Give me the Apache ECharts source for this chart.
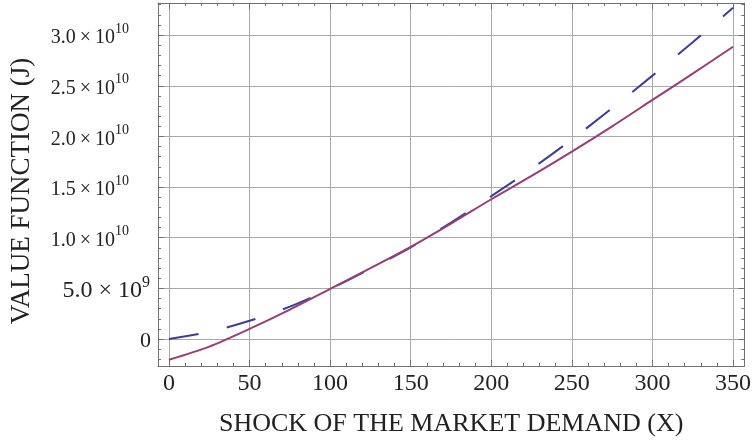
<!DOCTYPE html>
<html>
<head>
<meta charset="utf-8">
<script src="https://cdn.jsdelivr.net/npm/echarts@6/dist/echarts.min.js"></script>
<style>
  html, body { margin: 0; padding: 0; background: #fff; }
  #chart { width: 754px; height: 442px; }
</style>
</head>
<body>
<div id="chart"></div>
<script>
// x positions (shock of the market demand)
const xValues = [0, 25, 50, 75, 100, 125, 150, 175, 200, 225, 250, 275, 300, 325, 350]
// dashed blue curve
const dashedValues = [0, 0.7e9, 1.8e9, 3.2e9, 4.95e9, 6.95e9, 9.05e9, 11.5e9, 14.1e9, 16.8e9, 19.7e9, 22.8e9, 26.0e9, 29.3e9, 32.7e9]
// solid purple curve
const solidValues = [-2.05e9, -0.75e9, 1.0e9, 2.9e9, 4.95e9, 7.0e9, 9.1e9, 11.4e9, 13.8e9, 16.1e9, 18.5e9, 21.0e9, 23.6e9, 26.2e9, 28.85e9]

const xRange = [-6.8, 357]
const yRange = [-2.66e9, 3.317e10]
const xMajor = 50
const xMinor = 10
const yMajor = 5e9
const yMinor = 1e9

const font = 'Liberation Serif'
const frameColor = '#707070'
const gridColor = '#a8a8a8'
const textColor = '#222'

function isMultiple(v, step) {
  const r = v / step
  return Math.abs(r - Math.round(r)) < 1e-6
}

// Mathematica style labels: 0, 5.0x10^9, 1.0x10^10 ...
function yLabel(v) {
  if (!isMultiple(v, yMajor)) return ''
  if (Math.abs(v) < 1) return '{z|0}'
  const e = Math.floor(Math.log10(Math.abs(v)) + 1e-9)
  const m = v / Math.pow(10, e)
  if (e < 10) return '{B|' + m.toFixed(1) + ' × 10}{S|' + e + '}'
  return '{b|' + m.toFixed(1) + '\u2009×\u200910}{s|' + e + '}'
}

function xLabel(v) {
  return isMultiple(v, xMajor) ? String(Math.round(v)) : ''
}

function pairs(ys) {
  return xValues.map((x, i) => [x, ys[i]])
}

const chart = echarts.init(document.getElementById('chart'))

const tickStyle = { color: frameColor, width: 1 }

function xAxisOf(position, step, major) {
  return {
    type: 'value',
    position: position,
    min: xRange[0],
    max: xRange[1],
    splitNumber: Math.round((xRange[1] - xRange[0]) / step),
    minInterval: step,
    maxInterval: step,
    axisLine: { show: major, onZero: false, lineStyle: { color: frameColor, width: 1 } },
    axisTick: { show: true, inside: true, length: major ? 6 : 3, lineStyle: tickStyle },
    axisLabel: {
      show: major && position === 'bottom',
      formatter: xLabel,
      margin: 6,
      fontFamily: font,
      fontSize: 24,
      color: textColor
    },
    splitLine: { show: major && position === 'bottom', lineStyle: { color: gridColor, width: 1 } }
  }
}

function yAxisOf(position, step, major) {
  return {
    type: 'value',
    position: position,
    min: yRange[0],
    max: yRange[1],
    splitNumber: Math.round((yRange[1] - yRange[0]) / step),
    minInterval: step,
    maxInterval: step,
    axisLine: { show: major, onZero: false, lineStyle: { color: frameColor, width: 1 } },
    axisTick: { show: true, inside: true, length: major ? 6 : 3, lineStyle: tickStyle },
    axisLabel: {
      show: major && position === 'left',
      formatter: yLabel,
      margin: 7,
      rich: {
        z: { fontFamily: font, fontSize: 22, color: textColor, lineHeight: 26, verticalAlign: 'bottom' },
        B: { fontFamily: font, fontSize: 24, color: textColor, lineHeight: 28, verticalAlign: 'bottom' },
        S: { fontFamily: font, fontSize: 16, color: textColor, lineHeight: 17, verticalAlign: 'top', padding: [0, 1, 0, 0] },
        b: { fontFamily: font, fontSize: 20, color: textColor, lineHeight: 26, verticalAlign: 'bottom' },
        s: { fontFamily: font, fontSize: 14, color: textColor, lineHeight: 16, verticalAlign: 'top', padding: [0, 22, 0, 0] }
      }
    },
    splitLine: { show: major && position === 'left', lineStyle: { color: gridColor, width: 1 } }
  }
}

const xAxes = [
  xAxisOf('bottom', xMajor, true),
  xAxisOf('bottom', xMinor, false),
  xAxisOf('top', xMajor, true),
  xAxisOf('top', xMinor, false)
]
xAxes[0].name = 'SHOCK OF THE MARKET DEMAND (X)'
xAxes[0].nameLocation = 'middle'
xAxes[0].nameGap = 45
xAxes[0].nameTextStyle = { fontFamily: font, fontSize: 26, color: textColor }

const yAxes = [
  yAxisOf('left', yMajor, true),
  yAxisOf('left', yMinor, false),
  yAxisOf('right', yMajor, true),
  yAxisOf('right', yMinor, false)
]
yAxes[0].name = 'VALUE FUNCTION (J)'
yAxes[0].nameLocation = 'middle'
yAxes[0].nameGap = 123
yAxes[0].nameTextStyle = { fontFamily: font, fontSize: 27, color: textColor, padding: [0, 13, 0, 0] }

const option = {
  animation: false,
  backgroundColor: '#fff',
  grid: { left: 157, right: 8, top: 3, bottom: 75, containLabel: false },
  xAxis: xAxes,
  yAxis: yAxes,
  series: [
    {
      name: 'dashed',
      type: 'line',
      xAxisIndex: 0,
      yAxisIndex: 0,
      smooth: 0.3,
      showSymbol: false,
      data: pairs(dashedValues),
      lineStyle: { color: '#3d3d99', width: 2, type: [30, 29] }
    },
    {
      name: 'solid',
      type: 'line',
      xAxisIndex: 0,
      yAxisIndex: 0,
      smooth: 0.3,
      showSymbol: false,
      data: pairs(solidValues),
      lineStyle: { color: '#993d74', width: 2 }
    }
  ]
}

chart.setOption(option)
</script>
</body>
</html>
